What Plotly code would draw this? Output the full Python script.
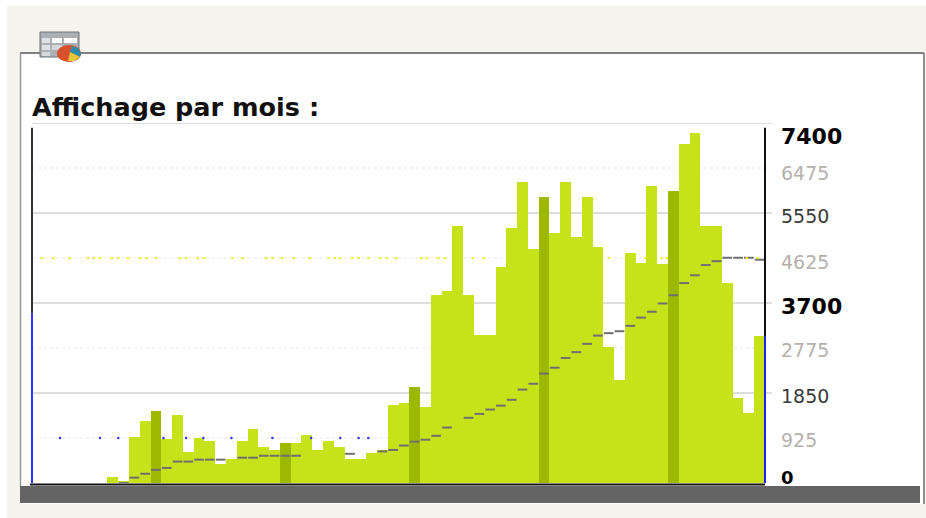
import plotly.graph_objects as go

months = list(range(68))
dark_months = [11, 23, 35, 47, 59]
bar_values = [0, 0, 0, 0, 0, 0, 0, 130, 50, 950, 1280, 1480, 900, 1400, 630, 920, 870, 400, 500, 870, 1110, 750, 670, 830,
              830, 990, 670, 860, 730, 490, 490, 610, 680, 1600, 1650, 1980, 1560, 3870, 3950, 5280, 3870, 3050, 3050, 4450,
              5250, 6180, 4810, 5880, 5140, 6180, 5060, 5880, 4860, 2800, 2120, 4730, 4520, 6100, 4500, 6010, 6960, 7200,
              5280, 5280, 4120, 1740, 1440, 3020]
trend_values = [None, None, None, None, None, None, None, None, 0, 110, 190, 270, 310, 440, 440, 480, 480, 480, None, 520, 520,
                560, 560, 560, 560, None, None, None, None, 600, None, None, 650, 680, 770, 850, 890, 970, 1140, None, 1340,
                1420, 1510, 1590, 1710, 1920, 2040, 2250, 2370, 2570, 2690, 2860, 3030, 3080, 3120, 3230, 3400, 3520, 3690,
                3860, 4110, 4270, 4480, 4560, 4630, 4630, 4630, 4590]
blue_dot_months = [2.6, 6.3, 8.0, 12.2, 14.3, 15.9, 18.5, 22.3, 25.9, 28.6, 30.3, 31.2]
yellow_dot_months = [0.9, 2.0, 3.5, 5.2, 5.75, 6.3, 7.4, 8.0, 8.9, 10.0, 10.6, 11.5, 13.7, 14.3, 15.4, 16.0, 18.6, 19.5,
                     21.7, 22.3, 23.2, 24.3, 25.8, 27.5, 28.1, 28.6, 29.7, 30.3, 31.2, 32.3, 32.9, 33.8, 36.1, 36.6,
                     37.7, 38.3, 40.9, 41.9, 53.5, 56.9, 58.4, 58.9, 66.3, 67.3]
tick_values = [0, 925, 1850, 2775, 3700, 4625, 5550, 6475, 7400]
major = [1850, 3700, 5550, 7400]
minor = [925, 2775, 4625, 6475]

# plot-area placement in page pixels
L, R, T, B = 32, 765, 123, 483
def px(x):
    return (x - L) / (R - L)
def py(y):
    return (B - y) / (B - T)

# vertical offset of each label below its gridline, in pixels
label_drop = {0: -6, 925: 2, 1850: 3, 2775: 2, 3700: 3, 4625: 4, 5550: 3, 6475: 5, 7400: 13}
def label_style(t):
    if t == 0:
        return dict(size=18, color='#000000'), f'<b>{t}</b>'
    if t in (3700, 7400):
        return dict(size=22, color='#000000'), f'<b>{t}</b>'
    if t in (1850, 5550):
        return dict(size=19, color='#3a3a3a'), str(t)
    return dict(size=19, color='#b5b1ad'), str(t)

fig = go.Figure()
fig.add_bar(x=[m + 0.5 for m in months], y=bar_values, width=1,
            marker=dict(color=['#9DB800' if m in dark_months else '#C6E31A' for m in months], line_width=0),
            showlegend=False, hoverinfo='y')

seg_x, seg_y = [], []
for m, t in zip(months, trend_values):
    if t is not None:
        seg_x += [m + 0.05, m + 0.95, None]
        seg_y += [t, t, None]
fig.add_scatter(x=seg_x, y=seg_y, mode='lines', line=dict(color='#6f6f6f', width=2), showlegend=False, hoverinfo='skip')
fig.add_scatter(x=blue_dot_months, y=[925] * len(blue_dot_months), mode='markers',
                marker=dict(color='#3333ee', size=2.5), showlegend=False, hoverinfo='skip')
fig.add_scatter(x=yellow_dot_months, y=[4625] * len(yellow_dot_months), mode='markers',
                marker=dict(color='#eeee22', size=2.5), showlegend=False, hoverinfo='skip')

def paper_line(x0, y0, x1, y1, color, width, layer='above'):
    return dict(type='line', xref='paper', yref='paper', x0=px(x0), x1=px(x1), y0=py(y0), y1=py(y1),
                line=dict(color=color, width=width), layer=layer)
def paper_rect(x0, y0, x1, y1, fill, line=None, layer='above'):
    return dict(type='rect', xref='paper', yref='paper', x0=px(x0), x1=px(x1), y0=py(y0), y1=py(y1),
                fillcolor=fill, line=dict(color=line or fill, width=1 if line else 0), layer=layer)
def paper_path(points, fill):
    path = 'M' + ' L'.join(f'{px(a):.5f},{py(b):.5f}' for a, b in points) + ' Z'
    return dict(type='path', xref='paper', yref='paper', path=path, fillcolor=fill, line_width=0, layer='above')

shapes = [
    paper_rect(7, 6, 926, 518, '#F5F4EF', layer='below'),
    paper_rect(20, 53, 924, 504, '#ffffff', layer='below'),
    paper_line(20, 53, 924, 53, '#808080', 2, 'below'),
    paper_line(20.5, 53, 20.5, 487, '#999999', 1.5, 'below'),
    paper_line(924, 53, 924, 504, '#8f8f8f', 2, 'below'),
    paper_rect(20, 486, 920, 503, '#646464'),
    paper_line(30, 484.5, 765, 484.5, '#111111', 2),
    # table and pie icon
    paper_rect(40, 32, 79, 57, '#aab0b4', '#6e7478'),
    paper_rect(42, 38, 50, 43, '#dfe3e6'), paper_rect(52, 38, 62, 43, '#ffffff'), paper_rect(64, 38, 77, 43, '#ffffff'),
    paper_rect(42, 45, 50, 50, '#dfe3e6'), paper_rect(52, 45, 62, 50, '#d6dadc'),
    paper_rect(42, 52, 50, 56, '#d6dadc'),
    dict(type='circle', xref='paper', yref='paper', x0=px(57), x1=px(81), y0=py(62), y1=py(45),
         fillcolor='#d8502c', line_width=0, layer='above'),
    paper_path([(70, 52), (72, 46), (78, 48), (81, 53), (80, 57)], '#2a8aa8'),
    paper_path([(70, 52), (80, 57), (74, 61), (68, 61)], '#e4c83a'),
]
for t in major:
    shapes.append(dict(type='line', xref='paper', x0=0, x1=1 + 7 / (R - L), yref='y', y0=t, y1=t,
                       line=dict(color='#dddddd', width=2), layer='below'))
for t in minor:
    shapes.append(dict(type='line', xref='paper', x0=0, x1=1 + 4 / (R - L), yref='y', y0=t, y1=t,
                       line=dict(color='#e8e8e8', width=1, dash='dot'), layer='below'))
shapes += [
    dict(type='line', xref='paper', x0=0, x1=0, yref='y', y0=3490, y1=7300, line=dict(color='#333333', width=2), layer='above'),
    dict(type='line', xref='paper', x0=0, x1=0, yref='y', y0=0, y1=3490, line=dict(color='#3333ff', width=2), layer='above'),
    dict(type='line', xref='paper', x0=1, x1=1, yref='y', y0=3020, y1=7300, line=dict(color='#111111', width=2), layer='above'),
    dict(type='line', xref='paper', x0=1, x1=1, yref='y', y0=0, y1=3020, line=dict(color='#2222ee', width=2), layer='above'),
]

annotations = [dict(text='<b>Affichage par mois :</b>', xref='paper', yref='paper', x=0, xshift=-2, y=py(107),
                    xanchor='left', yanchor='middle', showarrow=False,
                    font=dict(size=25.5, color='#111111', family='DejaVu Sans'))]
for t in tick_values:
    font, text = label_style(t)
    annotations.append(dict(text=text, xref='paper', yref='y', x=px(779), y=t, yshift=-label_drop[t],
                            xanchor='left', yanchor='middle', showarrow=False,
                            font=dict(family='DejaVu Sans', **font)))

fig.update_layout(
    width=926, height=518, autosize=False,
    margin=dict(l=L, r=926 - R, t=T, b=518 - B),
    paper_bgcolor='#ffffff', plot_bgcolor='rgba(0,0,0,0)',
    bargap=0, shapes=shapes, annotations=annotations,
    font=dict(family='DejaVu Sans'),
    xaxis=dict(range=[0, 68], showticklabels=False, showgrid=False, zeroline=False, ticks=''),
    yaxis=dict(range=[0, 7400], showticklabels=False, showgrid=False, zeroline=False, ticks=''),
)
fig.write_html('out.html', config=dict(displayModeBar=False),
               post_script="document.body.style.margin='0';")
